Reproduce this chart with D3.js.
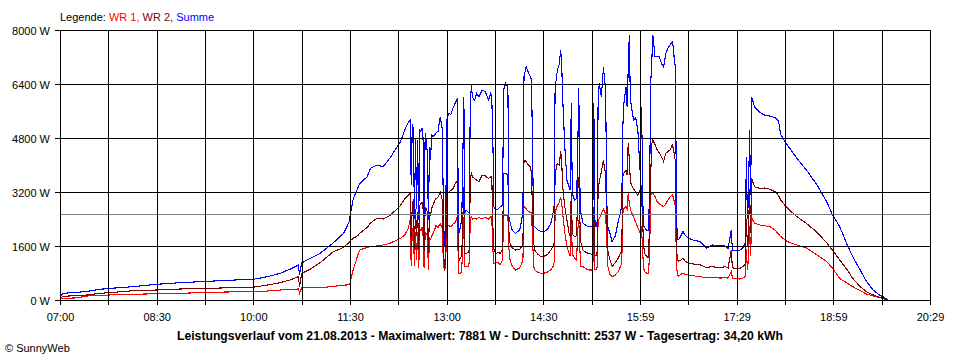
<!DOCTYPE html>
<html>
<head>
<meta charset="utf-8">
<script src="https://cdn.jsdelivr.net/npm/d3@7"></script>
<style>
  body { margin: 0; background: #fff; }
  svg { display: block; }
  text { font-family: "Liberation Sans", Arial, sans-serif; font-size: 11px; fill: #000; }
</style>
</head>
<body>
<svg id="chart" width="960" height="360"></svg>
<script>
// ---------------- DATA ----------------
const times = [
"07:00","07:03","07:14","07:26","07:37","07:47","08:08","08:30","08:52","09:17","09:41","10:00","10:13","10:25","10:34","10:42","10:43","10:45","10:53","11:02","11:14","11:24","11:29","11:30","11:33","11:37","11:39","11:46","11:49","11:55","12:01","12:07","12:14","12:17","12:21","12:24",
"12:26","12:27","12:28","12:29","12:30","12:31","12:32","12:33","12:34","12:35","12:36","12:37","12:38","12:39","12:40","12:41","12:42","12:43","12:44","12:45","12:46","12:47","12:49","12:50","12:52","12:54","12:56","12:57","12:58","12:59",
"13:00","13:02","13:04","13:06","13:08","13:10","13:11","13:12","13:13","13:14","13:16","13:17","13:18","13:20","13:21","13:22","13:23","13:24","13:26","13:28","13:30","13:33","13:36","13:39","13:41","13:42","13:43","13:44","13:46","13:48","13:50","13:52","13:53","13:55","13:57","13:58","13:59",
"14:01","14:04","14:08","14:10","14:11","14:12","14:14","14:16","14:18","14:19","14:20","14:21","14:22","14:25","14:28","14:31","14:34","14:37","14:39","14:40","14:41","14:42","14:43","14:45","14:46","14:47","14:48","14:50","14:52","14:54","14:55","14:56","14:57","14:59",
"15:01","15:02","15:03","15:04","15:05","15:07","15:10","15:13","15:15","15:16","15:17","15:18","15:19","15:20","15:21","15:22","15:24","15:26","15:27","15:28","15:29","15:30","15:32","15:34","15:37","15:40","15:43","15:44","15:45","15:47","15:48","15:49","15:50","15:51","15:52","15:54","15:56","15:58",
"16:00","16:01","16:02","16:03","16:04","16:06","16:08","16:09","16:10","16:11","16:12","16:14","16:16","16:18","16:20","16:22","16:24","16:26","16:28","16:30","16:31","16:32","16:33","16:34","16:35","16:36","16:38","16:40","16:42","16:45","16:49","16:56",
"17:02","17:07","17:15","17:19","17:22","17:25","17:26","17:33","17:36","17:38","17:39","17:40","17:41","17:42","17:43","17:44","17:45","17:47","17:52","17:56",
"18:01","18:06","18:09","18:11","18:17","18:26","18:35","18:45","18:54","18:59",
"19:06","19:13","19:18","19:25","19:31","19:37","19:43","19:50","19:51"
];

const wr1 = [
20,50,60,120,130,150,170,185,197,227,240,247,265,296,310,326,200,365,365,365,400,440,450,500,900,1300,1480,1560,1580,1600,1630,1680,1780,1830,1930,2100,
2370,1000,2100,2050,1000,2000,1200,2000,950,2100,2050,2150,1900,950,2000,1950,2000,900,1850,1800,1900,1950,2100,2200,2150,2270,2100,1000,890,950,
2270,2200,2170,2250,2300,2470,800,790,800,850,2470,1000,990,990,1100,2400,2470,2400,2420,2400,2450,2400,2450,2400,2470,2450,1500,1090,1100,1100,1050,1185,2520,2520,2500,1500,1185,
1000,890,950,1100,1185,2765,2700,2620,2600,2570,1800,1000,890,820,790,800,830,890,990,1100,2570,2700,2800,2900,3060,2900,2570,2000,1580,1385,1300,2370,1350,1250,
1185,2070,2370,1500,1000,990,920,890,890,880,2070,900,890,950,2370,2400,2570,2700,2600,2570,1800,1000,750,690,740,850,1100,2570,2700,2765,2700,3160,2900,2700,2600,2470,2300,2150,
2000,2200,1800,1100,850,800,790,1500,3110,3160,3160,3060,2910,2850,2800,2765,2850,2960,3060,3110,3060,2900,2765,990,750,700,760,800,760,740,720,690,
660,670,650,660,650,850,650,620,650,700,1500,900,1200,2200,1300,2430,2370,2270,2220,2200,
2170,2070,1950,1880,1730,1630,1540,1330,1135,950,
640,494,395,276,178,118,70,10,0
];

const wr2 = [
50,110,127,150,197,220,276,296,326,345,365,380,444,513,593,690,395,790,910,1100,1420,1560,1700,1750,1830,1900,1975,2150,2280,2420,2400,2500,2700,2800,3000,3100,
3160,1600,2900,2950,1500,2700,1900,2600,1500,2800,2850,2900,2700,1450,2750,2700,2600,1400,2600,2500,2700,2800,2950,3000,3050,3200,2950,1500,900,1200,
3100,3200,3250,3300,3450,3550,1300,1185,1250,1300,3350,1385,1385,1400,1500,3500,3800,3650,3600,3550,3500,3700,3680,3600,3650,3650,2200,1500,1385,1400,1385,1500,3750,3750,3700,2000,1680,
1550,1480,1500,1580,1680,4150,4100,4000,3950,3750,2500,1700,1480,1350,1285,1300,1350,1480,1580,1700,3750,3900,4050,4000,4400,4200,3360,2760,2370,1970,1880,3160,1950,1880,
1900,3300,3650,2400,1700,1480,1400,1380,1350,1330,2760,1330,1300,1380,3260,3500,3800,4150,3900,3750,2370,1480,1185,1000,1100,1250,1480,3650,3750,3850,3700,4640,4200,3550,3400,3300,3200,3100,
3250,3400,2700,1900,1400,1300,1250,2500,3750,4640,4740,4600,4450,4350,4250,4100,4350,4400,4440,4590,4500,4300,4100,1480,1185,1150,1185,1240,1150,1100,1070,1040,
960,990,950,990,950,1480,950,930,1000,1050,2400,1600,1900,3300,2000,3610,3500,3350,3300,3320,
3280,3200,3100,2960,2730,2470,2270,2000,1690,1480,
1185,890,640,395,245,150,80,10,0
];

const summe = [
100,200,220,260,317,345,395,465,513,553,590,612,690,790,910,1037,740,1100,1235,1380,1680,1975,2300,2470,3000,3300,3450,3650,3900,4000,3950,4200,4540,4690,5040,5250,
5333,3400,5200,5100,2400,4800,2700,4740,2370,5040,5000,5100,4800,2470,4940,4700,4350,2370,4540,4150,4890,4840,4900,4950,5000,5430,5040,2500,1580,1875,
5333,5530,5500,5700,5830,5975,1975,2000,2270,2270,6020,2570,2670,2600,2570,5800,6370,6000,5925,6120,6020,6220,6170,5925,6120,6000,4740,2765,2670,2700,2765,2800,6220,6420,6320,2470,2300,
2070,1975,2070,2400,2670,6615,6910,6750,6600,6520,4350,2170,2170,2070,2025,2025,2100,2270,2570,2800,6400,6520,6800,7010,7400,7100,6000,4540,3550,3360,3260,5830,3160,2960,
3000,4350,6270,3400,2570,2270,2200,2170,2170,2200,5830,2370,2170,2200,5830,6420,6020,6910,6500,6320,3000,2170,1975,1730,1900,2370,2765,5130,5830,6320,5730,6800,7850,6000,5730,5333,5400,5040,
3850,5730,4740,2170,2170,2070,2070,3500,6420,7100,7850,7210,7200,7210,7000,6910,7300,7460,7560,7650,7510,7100,6910,2370,1780,1780,1900,2025,1925,1830,1780,1730,
1530,1630,1600,1600,1530,2070,1480,1480,1550,1700,4240,2400,3000,5040,3100,6020,5900,5700,5550,5480,
5450,5400,5300,4900,4600,4200,3850,3400,2900,2540,
2170,1630,1285,890,543,296,148,30,0
];

const seriesNames = ["WR 1", "WR 2", "Summe"];
const yTickValues = [0, 1600, 3200, 4800, 6400, 8000];
const xTickLabels = ["07:00","08:30","10:00","11:30","13:00","14:30","15:59","17:29","18:59","20:29"];
const averageValue = 2537;
const titleText = "Leistungsverlauf vom 21.08.2013 - Maximalwert: 7881 W - Durchschnitt: 2537 W - Tagesertrag: 34,20 kWh";
const creditText = "\u00A9 SunnyWeb";

// ---------------- STYLES / LAYOUT ----------------
const colors = ["#ff0000", "#800000", "#0000ff"];
const M = { left: 60, right: 930, top: 30, bottom: 300 };

const svg = d3.select("#chart");
svg.append("rect").attr("width", 960).attr("height", 360).attr("fill", "#fff");

const parse = d3.timeParse("%H:%M");
const t0 = parse("07:00"), t1 = parse("20:30");
const x = d3.scaleTime().domain([t0, t1]).range([M.left, M.right]);
const y = d3.scaleLinear().domain([0, 8000]).range([M.bottom, M.top]);

const dates = times.map(parse);
const series = [wr1, wr2, summe];

// data lines
const line = d3.line().x(d => x(d[0])).y(d => y(d[1]));
series.forEach((vals, i) => {
  const pts = dates.map((d, j) => [d, vals[j]]);
  svg.append("path")
    .datum(pts)
    .attr("fill", "none")
    .attr("stroke", colors[i])
    .attr("stroke-width", 1.1)
    .attr("shape-rendering", "crispEdges")
    .attr("d", line);
});

// average line
svg.append("line")
  .attr("x1", M.left).attr("x2", M.right)
  .attr("y1", Math.round(y(averageValue)) + 0.5).attr("y2", Math.round(y(averageValue)) + 0.5)
  .attr("stroke", "#808080").attr("stroke-width", 1).attr("shape-rendering", "crispEdges");

// grid
const gridTimes = d3.range(19).map(i => new Date(+t0 + i * (t1 - t0) / 18));
const grid = svg.append("g").attr("shape-rendering", "crispEdges");
grid.selectAll("line.v").data(gridTimes).join("line")
  .attr("x1", d => Math.round(x(d)) + 0.5).attr("x2", d => Math.round(x(d)) + 0.5)
  .attr("y1", M.top).attr("y2", M.bottom + 5)
  .attr("stroke", "#000");
grid.selectAll("line.h").data(yTickValues).join("line")
  .attr("x1", M.left - 5).attr("x2", M.right + 1)
  .attr("y1", d => Math.round(y(d)) + 0.5).attr("y2", d => Math.round(y(d)) + 0.5)
  .attr("stroke", "#000");

// y axis labels
const yAxis = d3.axisLeft(y).tickValues(yTickValues).tickSize(0).tickPadding(10)
  .tickFormat(d => d + " W");
const gy = svg.append("g").attr("transform", `translate(${M.left},0)`).call(yAxis);
gy.select(".domain").remove();
gy.selectAll("text").attr("dy", "0.38em");

// x axis labels
const labelTimes = gridTimes.filter((d, i) => i % 2 === 0);
const xAxis = d3.axisBottom(x).tickValues(labelTimes).tickSize(0).tickPadding(13)
  .tickFormat((d, i) => xTickLabels[i]);
const gx = svg.append("g").attr("transform", `translate(0,${M.bottom})`).call(xAxis);
gx.select(".domain").remove();
svg.selectAll("g").attr("font-family", null).attr("font-size", null);

// legend
const legend = svg.append("text").attr("x", 60).attr("y", 21);
legend.append("tspan").text("Legende: ");
seriesNames.forEach((n, i) => {
  legend.append("tspan").style("fill", colors[i])
    .text(n + (i < seriesNames.length - 1 ? ", " : ""));
});

// title
svg.append("text").attr("x", 480).attr("y", 340).attr("text-anchor", "middle")
  .style("font-weight", "bold").style("font-size", "12px")
  .attr("textLength", 606).attr("lengthAdjust", "spacingAndGlyphs")
  .text(titleText);

// credit
svg.append("text").attr("x", 5).attr("y", 352).text(creditText);
</script>
</body>
</html>
